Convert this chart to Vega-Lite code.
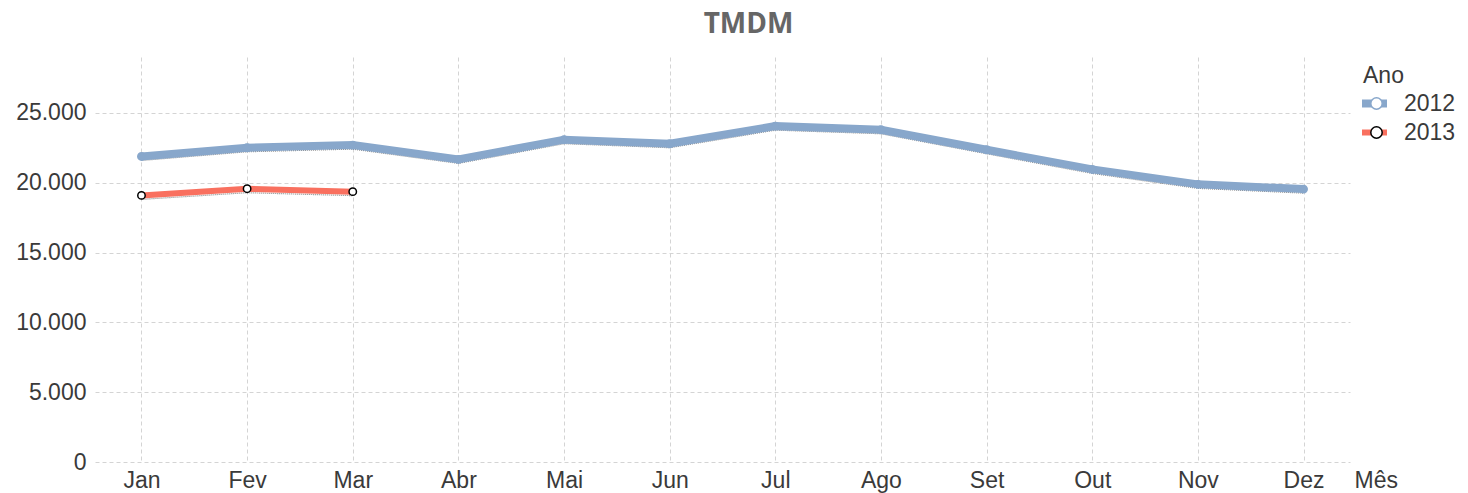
{
  "$schema": "https://vega.github.io/schema/vega-lite/v6.json",
  "width": 1255,
  "height": 405,
  "autosize": {"type": "none"},
  "padding": {"left": 95, "top": 57, "right": 118, "bottom": 31},
  "background": "white",
  "config": {"view": {"stroke": null}, "font": "Liberation Sans"},
  "title": {"text": "TMDM", "font": "Open Sans", "fontWeight": "bold", "fontSize": 28, "color": "#666666", "anchor": "middle", "dx": 26, "offset": 18},
  "data": {"values": [
    {"Mes": "Jan", "Ano": "2012", "v": 21880},
    {"Mes": "Fev", "Ano": "2012", "v": 22500},
    {"Mes": "Mar", "Ano": "2012", "v": 22690},
    {"Mes": "Abr", "Ano": "2012", "v": 21670},
    {"Mes": "Mai", "Ano": "2012", "v": 23080},
    {"Mes": "Jun", "Ano": "2012", "v": 22790},
    {"Mes": "Jul", "Ano": "2012", "v": 24050},
    {"Mes": "Ago", "Ano": "2012", "v": 23790},
    {"Mes": "Set", "Ano": "2012", "v": 22360},
    {"Mes": "Out", "Ano": "2012", "v": 20950},
    {"Mes": "Nov", "Ano": "2012", "v": 19880},
    {"Mes": "Dez", "Ano": "2012", "v": 19540},
    {"Mes": "Jan", "Ano": "2013", "v": 19090},
    {"Mes": "Fev", "Ano": "2013", "v": 19570},
    {"Mes": "Mar", "Ano": "2013", "v": 19360}
  ]},
  "encoding": {
    "x": {
      "field": "Mes", "type": "ordinal",
      "sort": ["Jan", "Fev", "Mar", "Abr", "Mai", "Jun", "Jul", "Ago", "Set", "Out", "Nov", "Dez"],
      "scale": {"type": "point", "padding": 0.44},
      "axis": {
        "title": "Mês", "labelAngle": 0, "domain": false, "ticks": false, "grid": true,
        "gridDash": [4, 3], "gridColor": "#d4d4d4", "gridWidth": 1,
        "labelFontSize": 23, "labelColor": "#3a3a3a", "labelPadding": 7,
        "titleFontSize": 23, "titleFontWeight": "normal", "titleColor": "#3a3a3a",
        "titleAlign": "left", "titleBaseline": "top", "titleX": 1259, "titleY": 7
      }
    },
    "y": {
      "field": "v", "type": "quantitative",
      "scale": {"domain": [0, 29000], "nice": false},
      "axis": {
        "title": null, "domain": false, "ticks": false,
        "values": [0, 5000, 10000, 15000, 20000, 25000],
        "gridDash": [4, 3], "gridColor": "#d4d4d4", "gridWidth": 1,
        "labelFontSize": 23, "labelColor": "#3a3a3a", "labelPadding": 9,
        "labelExpr": "replace(format(datum.value, ','), ',', '.')"
      }
    }
  },
  "layer": [
    {
      "mark": {"type": "line", "color": "#555555", "strokeWidth": 1.2, "strokeDash": [1, 1], "yOffset": 4, "opacity": 0.7},
      "encoding": {"detail": {"field": "Ano"}}
    },
    {
      "mark": {"type": "line"},
      "encoding": {
        "color": {
          "field": "Ano", "type": "nominal",
          "scale": {"range": ["#88A7CB", "#F9705F"]},
          "legend": {
            "orient": "right", "offset": 5, "padding": 8, "title": "Ano",
            "titleFontSize": 23, "titleFontWeight": "normal", "titleColor": "#3a3a3a", "titlePadding": 4,
            "symbolType": "stroke", "symbolSize": 625, "symbolStrokeWidth": 3,
            "labelFontSize": 23, "labelColor": "#3a3a3a", "labelOffset": 18, "rowPadding": 0,
            "encode": {"symbols": {"update": {"strokeWidth": {"signal": "datum.value === '2012' ? 8 : 6"}}}}
          }
        },
        "strokeWidth": {"field": "Ano", "type": "nominal", "scale": {"domain": ["2013", "2012"], "range": [6, 8]}, "legend": null}
      }
    },
    {
      "mark": {"type": "point", "filled": true, "shape": "circle", "size": 55, "strokeWidth": 1.5, "opacity": 1},
      "encoding": {
        "stroke": {
          "field": "Ano", "type": "nominal",
          "scale": {"domain": ["2012", "2013"], "range": ["#88A7CB", "#000000"]},
          "legend": {
            "orient": "none", "legendX": 1270, "legendY": 8, "title": " ",
            "titleFontSize": 23, "titleFontWeight": "normal", "titleColor": "transparent", "titlePadding": 4,
            "symbolType": "circle", "symbolSize": 130, "symbolFillColor": "white", "symbolStrokeWidth": 1.5,
            "labelFontSize": 23, "labelColor": "transparent", "labelOffset": 16, "rowPadding": 5,
            "labelExpr": "' '",
            "encode": {"symbols": {"update": {"strokeWidth": {"signal": "datum.value === '2012' ? 3 : 1.3"}, "fill": {"value": "white"}}}}
          }
        },
        "fill": {
          "field": "Ano", "type": "nominal",
          "scale": {"domain": ["2013", "2012"], "range": ["#ffffff", "#88A7CB"]},
          "legend": null
        }
      }
    }
  ]
}
